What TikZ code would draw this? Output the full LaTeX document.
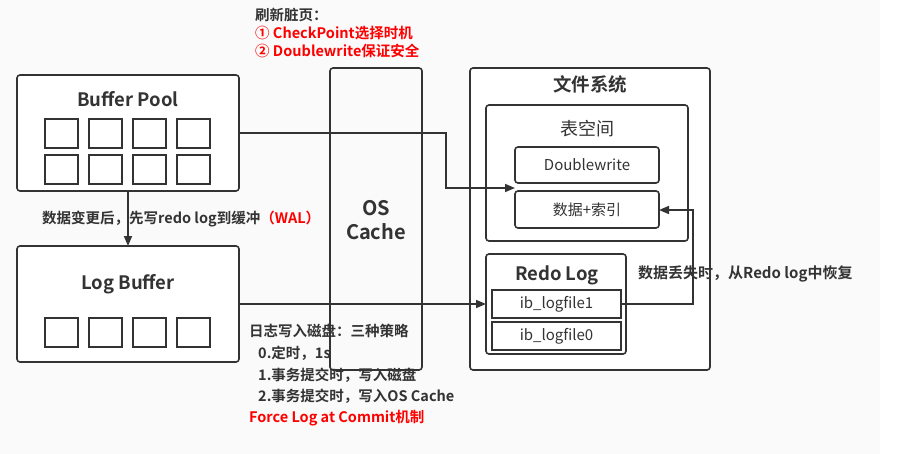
\documentclass[tikz,border=0pt]{standalone}
\usepackage{fontspec}
\setmainfont{Noto Sans CJK SC}
\newfontfamily\cjkb{Noto Sans CJK SC Bold}
\usetikzlibrary{arrows.meta}
\definecolor{ink}{HTML}{333333}
\definecolor{redt}{HTML}{FF0000}
\definecolor{bgc}{HTML}{FAFAFA}
\tikzset{
  box/.style={draw=ink, line width=1.6pt, rounded corners=3pt, fill=white},
  cell/.style={draw=ink, line width=1.6pt, fill=white, minimum width=33pt, minimum height=29pt, inner sep=0pt},
  conn/.style={draw=ink, line width=1.6pt, -{Triangle[length=10pt,width=8pt]}},
  ttl/.style={text=ink, font=\cjkb\fontsize{18.5}{22}\selectfont, inner sep=0pt},
  lbl/.style={text=ink, font=\fontsize{15}{18}\selectfont, inner sep=0pt},
  note/.style={text=ink, font=\cjkb\fontsize{14.5}{17}\selectfont, inner sep=0pt, anchor=west},
}
\begin{document}
\begin{tikzpicture}[x=1pt,y=-1pt]
\useasboundingbox (0,0) rectangle (909,454);
\fill[bgc] (0,0) rectangle (880,454);
\fill[white] (880,0) rectangle (909,454);

% Buffer Pool
\draw[box] (17,75) rectangle (239,191);
\node[coordinate] (bpR) at (239,133) {};
\node[coordinate] (bpB) at (128,191) {};
\node[ttl] (bpt) at (128,99) {Buffer Pool};
\foreach \i/\x in {1/61.5,2/105.5,3/149.5,4/193.5}{
  \node[cell] (bpa\i) at (\x,133.5) {};
  \node[cell] (bpb\i) at (\x,169.5) {};
}

% Log Buffer
\draw[box] (17,246) rectangle (239,362);
\node[coordinate] (lbT) at (128,246) {};
\node[coordinate] (lbR) at (239,304) {};
\node[ttl] (lbt) at (128,284) {Log Buffer};
\foreach \i/\x in {1/61.5,2/105.5,3/149.5,4/193.5}{
  \node[cell] (lbc\i) at (\x,332.5) {};
}

% OS Cache
\draw[box, fill=none] (330,68) rectangle (422,370);
\node[ttl, font=\cjkb\fontsize{20}{24}\selectfont, align=center] (os) at (376,220) {OS\\Cache};

% File system
\draw[box] (470,68) rectangle (710,370);
\node[ttl] (fst) at (590,84) {文件系统};
\draw[box] (486,105) rectangle (688,241);
\node[lbl, font=\fontsize{18}{21}\selectfont] (tsp) at (587,129) {表空间};
\draw[box] (515,147) rectangle (659,183);
\node[lbl] (dw) at (587,165) {Doublewrite};
\draw[box] (515,191) rectangle (659,228);
\node[lbl] (di) at (587,210) {数据+索引};
\node[coordinate] (diL) at (515,188) {};
\node[coordinate] (diR) at (659,210) {};

\draw[box] (486,254) rectangle (626,354);
\node[ttl] (rlt) at (557,275) {Redo Log};
\node[coordinate] (rlL) at (486,304) {};
\draw[draw=ink, line width=1.6pt, fill=white] (492,290) rectangle (621,318);
\node[lbl] (ib1) at (556.5,304) {ib\_logfile1};
\draw[draw=ink, line width=1.6pt, fill=white] (492,322) rectangle (621,350);
\node[lbl] (ib0) at (556.5,336) {ib\_logfile0};
\node[coordinate] (ib1R) at (621,304) {};

% connectors
\draw[conn] (bpR) -- (446,133) -- (446,188) -- (diL);
\draw[conn] (bpB) -- (lbT);
\draw[conn] (lbR) -- (rlL);
\draw[conn] (ib1R) -- (693,304) -- (693,210) -- (diR);

% notes
\node[note] (n1) at (255,15) {刷新脏页：};
\node[note, text=redt] (n2) at (255,33) {① CheckPoint选择时机};
\node[note, text=redt] (n3) at (255,51) {② Doublewrite保证安全};

\node[note] (wal) at (42,219) {数据变更后，先写redo log到缓冲\textcolor{redt}{（WAL）}};

\node[note, font=\cjkb\fontsize{15}{18}\selectfont] (rec) at (638,274) {数据丢失时，从Redo log中恢复};

\node[note] (s0) at (249,331) {日志写入磁盘：三种策略};
\node[note] (s1) at (258,353) {0.定时，1s};
\node[note] (s2) at (258,375) {1.事务提交时，写入磁盘};
\node[note] (s3) at (258,396) {2.事务提交时，写入OS Cache};
\node[note, text=redt] (s4) at (249,418) {Force Log at Commit机制};
\end{tikzpicture}
\end{document}
